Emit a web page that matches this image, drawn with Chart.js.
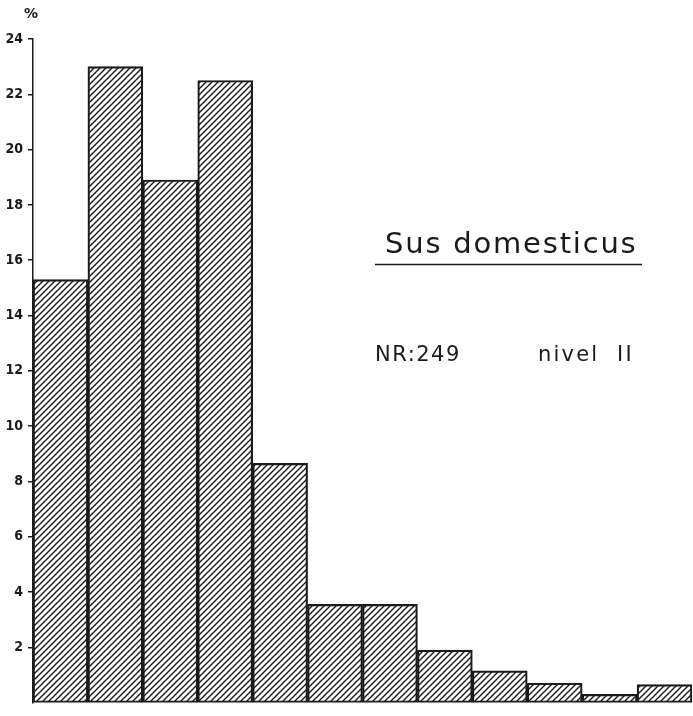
<!DOCTYPE html>
<html>
<head>
<meta charset="utf-8">
<script src="https://cdn.jsdelivr.net/npm/chart.js@4"></script>
<style>
  html, body { margin: 0; padding: 0; background: #fff; }
  #wrap { width: 693px; height: 716px; position: relative; }
</style>
</head>
<body>
<div id="wrap"><canvas id="chart" width="693" height="716"></canvas></div>
<script>
// categories are just the consecutive size classes of the histogram
const categories = ['1', '2', '3', '4', '5', '6', '7', '8', '9', '10', '11', '12'];
const percentValues = [15.3, 23.0, 18.9, 22.5, 8.65, 3.55, 3.55, 1.9, 1.15, 0.7, 0.3, 0.65];
const yTicks = [2, 4, 6, 8, 10, 12, 14, 16, 18, 20, 22, 24];
const titleText = 'Sus domesticus';
const infoLeft = 'NR:249';
const infoRight = 'nivel  II';

const ink = '#1a1a1a';

// diagonal "/" hatching like the printed figure
const makeHatch = () => {
    const size = 6;
    const c = document.createElement('canvas');
    c.width = size;
    c.height = size;
    const ctx = c.getContext('2d');
    ctx.strokeStyle = ink;
    ctx.lineWidth = 1.4;
    ctx.lineCap = 'square';
    ctx.beginPath();
    ctx.moveTo(0, size);
    ctx.lineTo(size, 0);
    ctx.moveTo(-size / 2, size / 2);
    ctx.lineTo(size / 2, -size / 2);
    ctx.moveTo(size / 2, size * 1.5);
    ctx.lineTo(size * 1.5, size / 2);
    ctx.stroke();
    return c.getContext('2d').createPattern(c, 'repeat');
};

const annotations = {
    id: 'annotations',
    afterDraw(chart) {
        const ctx = chart.ctx;
        ctx.save();
        ctx.fillStyle = ink;
        ctx.strokeStyle = ink;

        // percent sign over the axis
        ctx.font = 'bold 14px "DejaVu Sans"';
        ctx.textAlign = 'center';
        ctx.textBaseline = 'middle';
        ctx.fillText('%', 31, 14);

        // species name with underline
        ctx.font = '29px "DejaVu Sans"';
        ctx.textAlign = 'left';
        ctx.textBaseline = 'alphabetic';
        ctx.letterSpacing = '1.8px';
        ctx.fillText(titleText, 385, 253);
        ctx.lineWidth = 1.5;
        ctx.beginPath();
        ctx.moveTo(375, 264.5);
        ctx.lineTo(642, 264.5);
        ctx.stroke();

        ctx.font = '21px "DejaVu Sans"';
        ctx.letterSpacing = '1.5px';
        ctx.textBaseline = 'middle';
        ctx.fillText(infoLeft, 375, 356);
        ctx.letterSpacing = '2.2px';
        ctx.fillText(infoRight, 538, 356);
        ctx.restore();
    }
};

new Chart(document.getElementById('chart'), {
    type: 'bar',
    data: {
        labels: categories,
        datasets: [{
            data: percentValues,
            backgroundColor: makeHatch(),
            borderColor: ink,
            borderWidth: 1.5,
            borderSkipped: false,
            categoryPercentage: 1,
            barPercentage: 1
        }]
    },
    options: {
        responsive: false,
        animation: false,
        layout: { padding: { top: 39, right: 1, bottom: 8, left: 0 } },
        plugins: {
            legend: { display: false },
            tooltip: { enabled: false }
        },
        scales: {
            x: { display: false },
            y: {
                min: 0,
                max: 24,
                afterFit: (s) => { s.width = 33; },
                afterBuildTicks: (s) => { s.ticks = yTicks.map(v => ({ value: v })); },
                border: { display: true, color: ink, width: 1.5 },
                grid: {
                    drawOnChartArea: false,
                    drawTicks: true,
                    tickLength: 5,
                    color: ink,
                    lineWidth: 1.5
                },
                ticks: {
                    color: ink,
                    padding: 5,
                    font: { family: 'DejaVu Sans Condensed', size: 14, weight: 'bold' }
                }
            }
        }
    },
    plugins: [annotations]
});
</script>
</body>
</html>
